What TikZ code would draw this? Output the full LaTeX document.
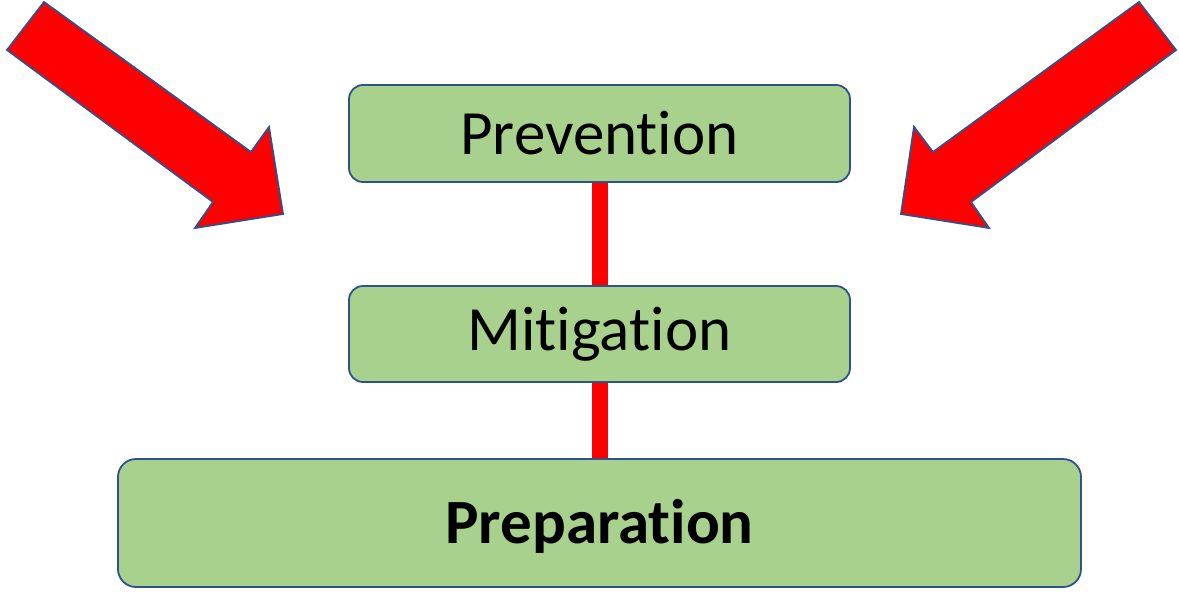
\documentclass[tikz,border=0pt]{standalone}
\usepackage{fontspec}
\setmainfont[RawFeature={-liga;-clig;-calt;-dlig}]{Carlito}
\usetikzlibrary{backgrounds}
\definecolor{boxfill}{HTML}{A9D18E}
\definecolor{boxline}{HTML}{2F528F}
\definecolor{arrowred}{HTML}{FF0000}
\begin{document}
\begin{tikzpicture}[x=1pt,y=-1pt,
  stagebox/.style={draw=boxline, line width=1.8pt, fill=boxfill, rounded corners=14pt,
    inner sep=0pt, align=center, font=\fontsize{63}{70}\selectfont},
  link/.style={draw=arrowred, line width=16pt},
  bigarrow/.style={draw=boxline, line width=1.8pt, fill=arrowred, line join=miter}]
\useasboundingbox (0,0) rectangle (1179,592);
\node[stagebox, minimum width=501pt, minimum height=97pt] (prev) at (599.5,133.5) {Prevention};
\node[stagebox, minimum width=501pt, minimum height=96pt] (mit) at (599.5,334) {Mitigation};
\node[stagebox, minimum width=963pt, minimum height=128pt, rounded corners=18pt, font=\fontsize{63}{70}\selectfont\bfseries, text depth=4pt] (prep) at (599.5,523) {Preparation};
\begin{scope}[on background layer]
\draw[link] (prev.south) -- (mit.north);
\draw[link] (mit.south) -- (prep.north);
\end{scope}
\draw[bigarrow] (44,2) -- (251,152) -- (269,127) -- (283,214) -- (195,228) -- (213,202) -- (7,50) -- cycle;
\draw[bigarrow] (1139,2) -- (933,152) -- (914,127) -- (901,214) -- (989,228) -- (971,202) -- (1176,50) -- cycle;
\end{tikzpicture}
\end{document}
